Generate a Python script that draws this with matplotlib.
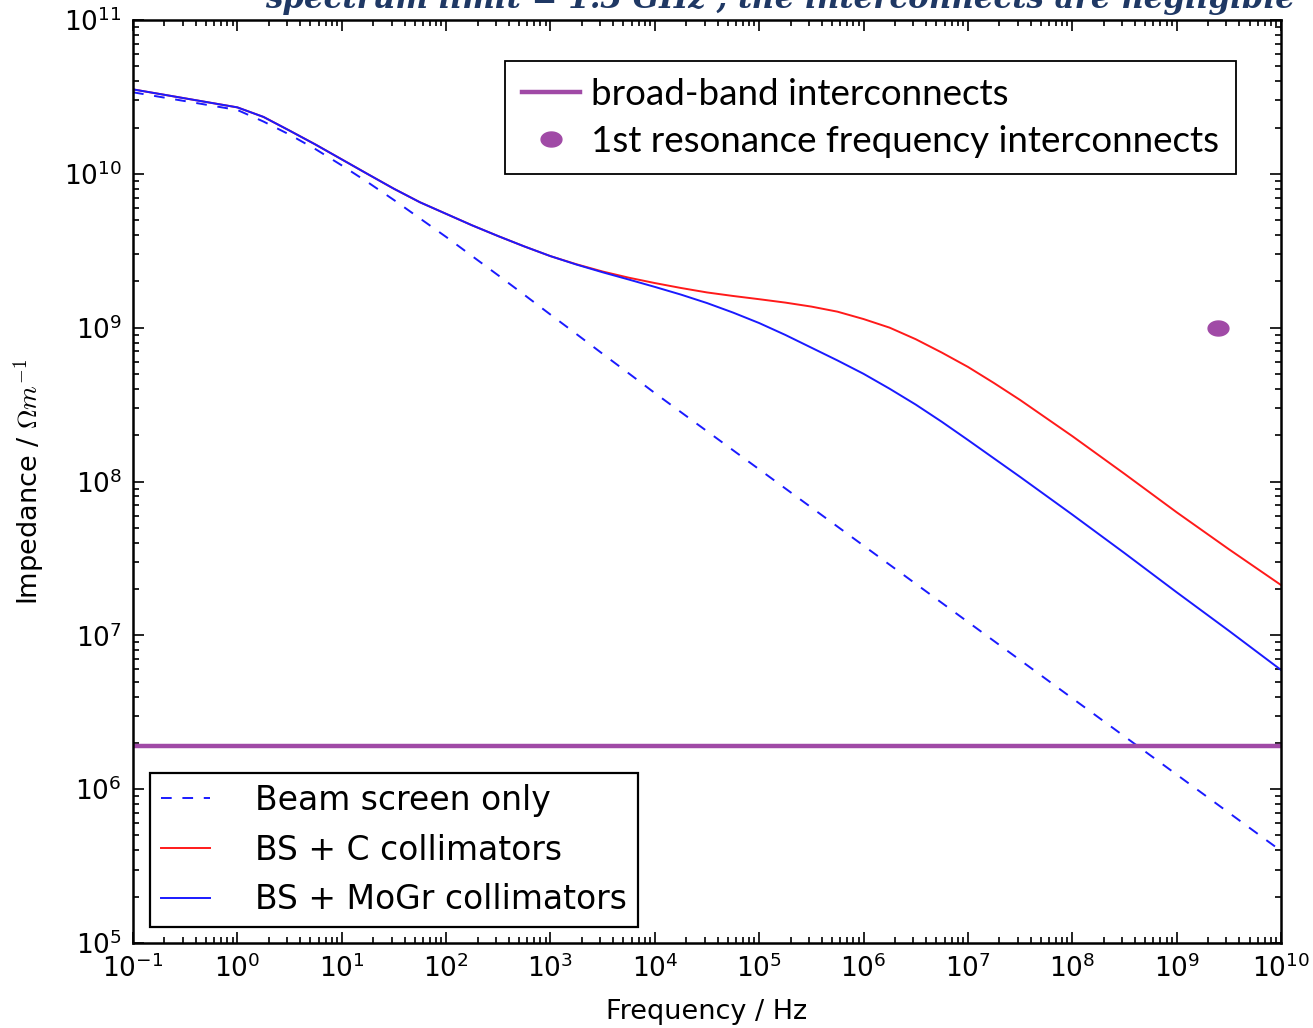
import numpy as np
import matplotlib
matplotlib.use("Agg")
import matplotlib.pyplot as plt
from matplotlib.path import Path
from matplotlib.lines import Line2D
from matplotlib import ticker

plt.rcParams['mathtext.fontset'] = 'cm'
plt.rcParams['font.family'] = ['DejaVu Sans']
plt.rcParams['axes.unicode_minus'] = False

# ---------------- data ----------------
log_freq = [-1.0, 0.0, 0.25, 0.5, 0.75, 1.0, 1.25, 1.5, 1.75, 2.0, 2.25,
            2.5, 2.75, 3.0, 3.25, 3.5, 3.75, 4.0, 4.25, 4.5, 4.75, 5.0,
            5.25, 5.5, 5.75, 6.0, 6.25, 6.5, 6.75, 7.0, 7.25, 7.5, 8.0,
            8.5, 9.0, 9.5, 10.0]

log_beam_screen = [10.530, 10.415, 10.340, 10.255, 10.160, 10.055, 9.945,
                   9.830, 9.710, 9.590, 9.465, 9.340, 9.213, 9.085, 8.958,
                   8.830, 8.703, 8.575, 8.451, 8.327, 8.203, 8.079, 7.955,
                   7.831, 7.707, 7.583, 7.459, 7.335, 7.211, 7.087, 6.963,
                   6.839, 6.591, 6.343, 6.095, 5.847, 5.599]
log_bs_c = [10.549, 10.432, 10.370, 10.281, 10.190, 10.094, 9.998, 9.903,
            9.815, 9.740, 9.665, 9.595, 9.528, 9.465, 9.412, 9.365, 9.325,
            9.290, 9.258, 9.229, 9.206, 9.185, 9.163, 9.137, 9.104, 9.056,
            9.000, 8.925, 8.838, 8.745, 8.640, 8.530, 8.295, 8.050, 7.800,
            7.560, 7.327]
log_bs_mogr = [10.549, 10.432, 10.370, 10.281, 10.190, 10.094, 9.998, 9.903,
               9.815, 9.740, 9.665, 9.595, 9.528, 9.465, 9.410, 9.360, 9.313,
               9.265, 9.215, 9.160, 9.098, 9.030, 8.953, 8.870, 8.787, 8.700,
               8.603, 8.500, 8.388, 8.270, 8.150, 8.030, 7.785, 7.535, 7.280,
               7.030, 6.775]

broadband_level = 1.9e6
resonance_freq = [2.5e9]
resonance_imp = [1.0e9]

series_labels = ["Beam screen only", "BS + C collimators", "BS + MoGr collimators"]
top_legend_labels = ["broad-band interconnects", "1st resonance frequency interconnects"]
title_text = "spectrum limit = 1.3 GHz , the interconnects are negligible"

# ---------------- figure ----------------
W, H = 1313, 1028
fig = plt.figure(figsize=(W / 100, H / 100), dpi=100)
ax = fig.add_axes([133 / W, 1 - 943 / H, (1281 - 133) / W, (943 - 20) / H])

f = 10 ** np.array(log_freq)
l_bs, = ax.plot(f, 10 ** np.array(log_beam_screen), color='#1a1aff', lw=1.4,
                dashes=(5.5, 5.5), label=series_labels[0])
l_c, = ax.plot(f, 10 ** np.array(log_bs_c), color='#ff1a1a', lw=1.4,
               label=series_labels[1])
l_m, = ax.plot(f, 10 ** np.array(log_bs_mogr), color='#1a1aff', lw=1.4,
               label=series_labels[2])

purple = '#a04aa6'
ax.axhline(broadband_level, color=purple, lw=3.2)

# ellipse-shaped marker (wider than tall)
t = np.linspace(0, 2 * np.pi, 60)
ell = Path(np.column_stack([np.cos(t), 0.72 * np.sin(t)]), closed=True)
ax.plot(resonance_freq, resonance_imp, linestyle='none', marker=ell,
        ms=15, color=purple, mec=purple)

ax.set_xscale('log')
ax.set_yscale('log')
ax.set_xlim(1e-1, 1e10)
ax.set_ylim(1e5, 1e11)

ax.tick_params(which='both', direction='in', top=True, right=True,
               labelsize=19, width=1.2)
ax.tick_params(which='major', length=8, pad=8)
ax.tick_params(which='minor', length=4)
for a in (ax.xaxis, ax.yaxis):
    a.set_major_locator(ticker.LogLocator(base=10, numticks=20))
    a.set_minor_locator(ticker.LogLocator(base=10, subs=np.arange(2, 10), numticks=20))
    a.set_minor_formatter(ticker.NullFormatter())
for s in ax.spines.values():
    s.set_linewidth(1.8)

ax.set_xlabel("Frequency / Hz", fontsize=19.5, labelpad=12)
ax.set_ylabel(r"Impedance / $\Omega m^{-1}$", fontsize=19.5, labelpad=12)

# lower-left legend
leg1 = ax.legend(handles=[l_bs, l_c, l_m], loc='lower left',
                 bbox_to_anchor=(0.0148, 0.0173), borderaxespad=0,
                 fontsize=23.8, frameon=True, fancybox=False, framealpha=1,
                 edgecolor='black', handlelength=1.5, handletextpad=1.36,
                 labelspacing=0.5, borderpad=0.33)
leg1.get_frame().set_linewidth(1.6)
ax.add_artist(leg1)

# upper-right legend
h_bb = Line2D([], [], color=purple, lw=3.2)
h_res = Line2D([], [], linestyle='none', marker=ell, ms=15, color=purple)
leg2 = ax.legend(handles=[h_bb, h_res], labels=top_legend_labels,
                 loc='upper right', bbox_to_anchor=(0.9608, 0.9556),
                 borderaxespad=0, prop={'family': 'Lato', 'size': 26.5},
                 frameon=True, fancybox=False, framealpha=1,
                 edgecolor='black', handlelength=1.6, handletextpad=0.3,
                 labelspacing=0.39, borderpad=0.45)
leg2.get_frame().set_linewidth(1.3)

# clipped title at the very top
fig.text(1295 / W, 1 - 8 / H, title_text, ha='right', va='baseline',
         fontsize=22.2, family='DejaVu Serif', style='italic', weight='bold',
         color='#1f3864')

fig.savefig("out.png", dpi=100)
